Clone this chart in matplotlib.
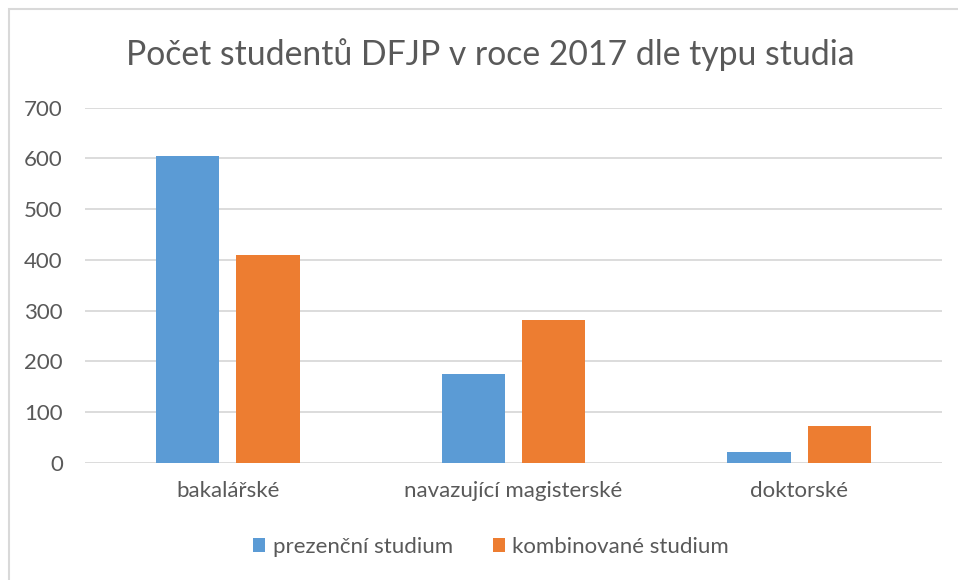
import matplotlib
matplotlib.use("Agg")
import matplotlib.pyplot as plt
import numpy as np
from matplotlib.patches import Rectangle

categories = ["bakalářské", "navazující magisterské", "doktorské"]
series_names = ["prezenční studium", "kombinované studium"]
prezencni = [604, 176, 21]
kombinovane = [409, 282, 72]
yticks = [0, 100, 200, 300, 400, 500, 600, 700]
title = "Počet studentů DFJP v roce 2017 dle typu studia"

blue = "#5B9BD5"
orange = "#ED7D31"
text_c = "#595959"
grid_c = "#D9D9D9"

plt.rcParams['font.family'] = ['Lato', 'DejaVu Sans']

fig = plt.figure(figsize=(9.58, 5.8), dpi=100)
fig.patches.append(Rectangle((9/958, -0.1), 1.2, 1 - 9/580 + 0.1, transform=fig.transFigure,
                             fill=False, edgecolor="#D9D9D9", linewidth=1.5))

ax = fig.add_axes([85/958, 1 - 463/580, 857/958, (463 - 107.5)/580])
x = np.arange(len(categories))
w = 0.222
off = 0.141
ax.bar(x - off, prezencni, w, color=blue, label=series_names[0], zorder=3)
ax.bar(x + off, kombinovane, w, color=orange, label=series_names[1], zorder=3)

ax.set_xlim(-0.5, len(categories) - 0.5)
ax.set_ylim(0, 700)
ax.set_yticks(yticks)
ax.set_xticks(x)
ax.set_xticklabels(categories)
ax.tick_params(axis='both', length=0, colors=text_c, labelsize=16)
ax.tick_params(axis='y', pad=16)
ax.tick_params(axis='x', pad=13)
for lab in ax.get_yticklabels():
    lab.set_horizontalalignment('right')
ax.grid(axis='y', color=grid_c, linewidth=1.3, zorder=0)
for s in ax.spines.values():
    s.set_visible(False)

fig.text(490/958, 1 - 55/580, title, ha='center', va='center', fontsize=24.3, color=text_c)

leg = fig.legend(loc='center', bbox_to_anchor=(491/958, 1 - 547/580), ncol=2, frameon=False,
                 fontsize=16, handlelength=0.55, handleheight=0.55, handletextpad=0.32,
                 columnspacing=1.8, labelcolor=text_c)

fig.savefig("out.png", dpi=100)
